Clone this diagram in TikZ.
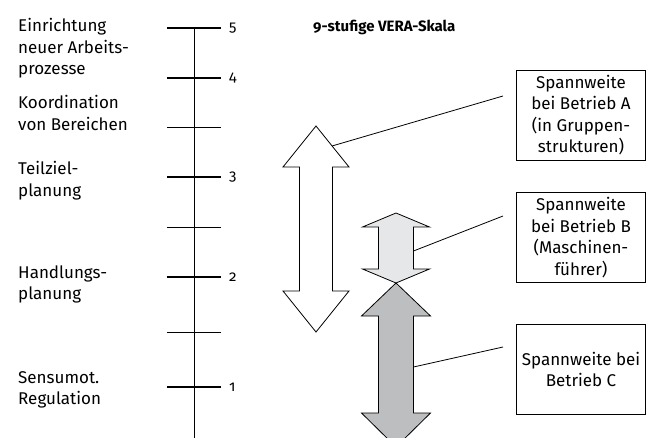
\documentclass[tikz,border=0pt]{standalone}
\usepackage{fontspec}
\setmainfont{Fira Sans}[Numbers=OldStyle]
\usepackage{tikz}
\usetikzlibrary{positioning}

\definecolor{lightgrey}{HTML}{E6E7E8}
\definecolor{midgrey}{HTML}{BCBEC0}

\begin{document}
\begin{tikzpicture}[x=1pt, y=-1pt,
  every node/.style={inner sep=0pt, font=\fontsize{17}{21.5}\selectfont},
  label/.style={anchor=base west, align=left},
  num/.style={anchor=base west, font=\fontsize{15}{18}\selectfont},
  major/.style={line width=1.6pt},
  minor/.style={line width=0.8pt},
  spanbox/.style={draw, line width=0.9pt, minimum width=129pt, minimum height=90pt, align=center},
  span/.style={draw, line width=0.8pt, line join=miter},
  lead/.style={line width=0.8pt}]
\clip (0,0) rectangle (647,438);

% scale
\draw[minor] (194,28) -- (194,440);
\draw[major] (167,28)  -- (221,28);
\draw[major] (167,78)  -- (221,78);
\draw[minor] (167,127) -- (221,127);
\draw[major] (167,177) -- (221,177);
\draw[minor] (167,227) -- (221,227);
\draw[major] (167,277) -- (221,277);
\draw[minor] (167,332) -- (221,332);
\draw[major] (167,387) -- (221,387);

\node[num] (N5) at (229,32)  {5};
\node[num] (N4) at (229,82)  {4};
\node[num] (N3) at (229,181) {3};
\node[num] (N2) at (229,281) {2};
\node[num] (N1) at (229,391) {1};

% labels (anchored at the last line)
\node[label] (L5) at (18,74.7)  {Einrichtung\\neuer Arbeits-\\prozesse};
\node[label] (L4) at (18,130.5) {Koordination\\von Bereichen};
\node[label] (L3) at (18,196.5) {Teilziel-\\planung};
\node[label] (L2) at (18,299.5) {Handlungs-\\planung};
\node[label] (L1) at (18,404.5) {Sensumot.\\Regulation};

\node[anchor=base west, font=\fontsize{15}{18}\selectfont\bfseries] (T) at (313,32) {9-stufige VERA-Skala};

% ranges
\draw[span, fill=white] (316,126) -- (349,167) -- (332.5,167) -- (332.5,291) -- (349,291)
  -- (316,332) -- (283,291) -- (299.5,291) -- (299.5,167) -- (283,167) -- cycle;
\draw[span, fill=lightgrey] (396,213) -- (429.5,227) -- (413.5,227) -- (413.5,269) -- (429.5,269)
  -- (396,283) -- (362.5,269) -- (378.5,269) -- (378.5,227) -- (362.5,227) -- cycle;
\draw[span, fill=midgrey] (396,283) -- (430.5,316) -- (413.5,316) -- (413.5,413) -- (430.5,413)
  -- (396,447) -- (361.5,413) -- (378.5,413) -- (378.5,316) -- (361.5,316) -- cycle;

\coordinate (SA) at (332,146);
\coordinate (SB) at (413.5,251);
\coordinate (SC) at (413.5,367);

\node[spanbox] (BA) at (581,115)   {Spannweite\\bei Betrieb A\\(in Gruppen-\\strukturen)};
\node[spanbox] (BB) at (581,237.5) {Spannweite\\bei Betrieb B\\(Maschinen-\\führer)};
\node[spanbox] (BC) at (581,369.5) {Spannweite bei\\Betrieb C};

\coordinate (EA) at (503,96);
\coordinate (EB) at (503,216);
\coordinate (EC) at (503,347);

\draw[lead] (SA) -- (EA);
\draw[lead] (SB) -- (EB);
\draw[lead] (SC) -- (EC);
\end{tikzpicture}
\end{document}
